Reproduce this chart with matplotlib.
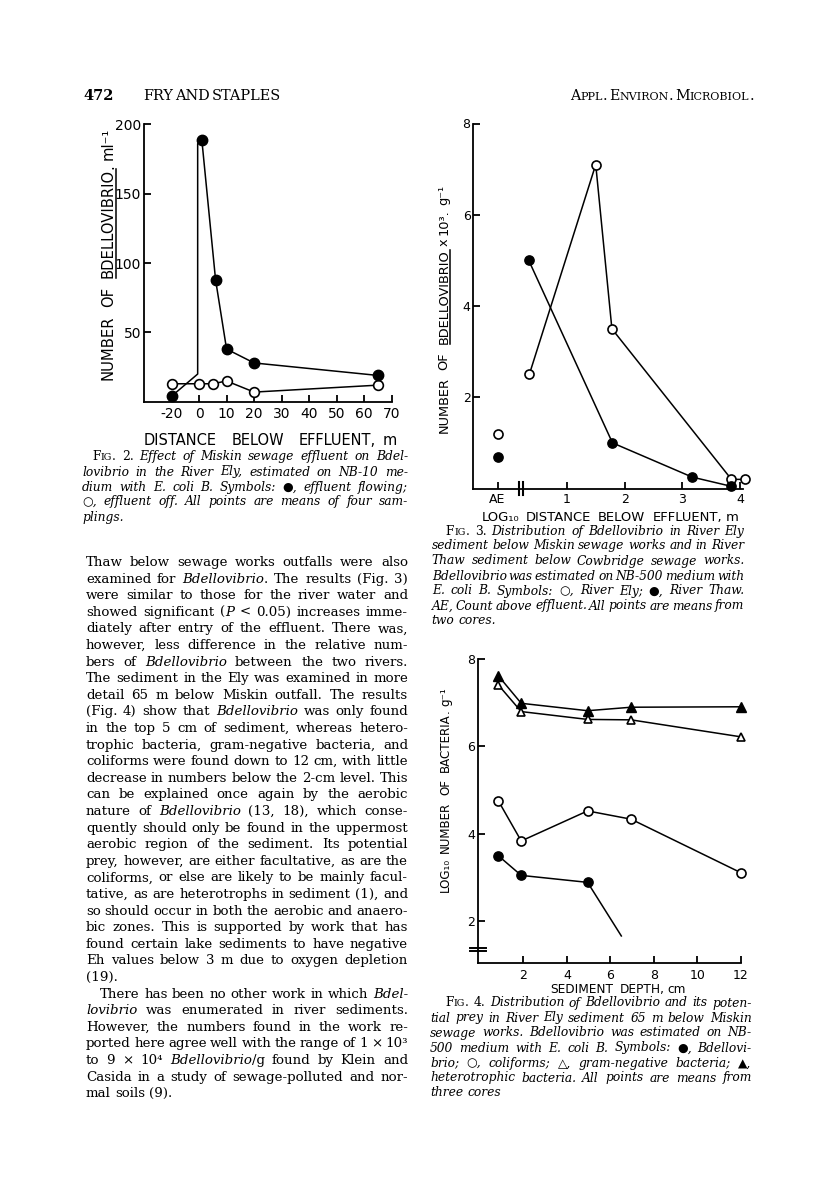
import numpy as np
import matplotlib
matplotlib.use('Agg')
import matplotlib.pyplot as plt
from matplotlib.lines import Line2D
import matplotlib.transforms as mtransforms

# ---------------------------------------------------------------- data
# Fig. 2  (River Ely water)
fig2_ticks_x = [-20, 0, 10, 20, 30, 40, 50, 60, 70]
fig2_ticks_y = [50, 100, 150, 200]
fig2_flow_dist = [-20, 1, 6, 10, 20, 65]
fig2_flow_count = [4, 189, 88, 38, 28, 19]
fig2_flow_path_dist = [-20, -1, -1, 1, 6, 10, 20, 65]
fig2_flow_path_count = [4, 20, 186, 189, 88, 38, 28, 19]
fig2_off_dist = [-20, 0, 5, 10, 20, 65]
fig2_off_count = [13, 13, 13, 15, 7, 12]

# Fig. 3  (sediment, two rivers)
fig3_tick_pos = [-0.2, 1, 2, 3, 4]
fig3_tick_lab = ['AE', '1', '2', '3', '4']
fig3_ticks_y = [2, 4, 6, 8]
fig3_ae_pos = -0.2
fig3_ely_ae = 1.2
fig3_ely_logd = [0.35, 1.5, 1.78, 3.85, 4.08]
fig3_ely = [2.5, 7.1, 3.5, 0.2, 0.2]
fig3_thaw_ae = 0.7
fig3_thaw_logd = [0.34, 1.79, 3.17, 3.84]
fig3_thaw = [5.0, 1.0, 0.25, 0.05]

# Fig. 4  (sediment depth profile)
fig4_ticks_x = [2, 4, 6, 8, 10, 12]
fig4_ticks_y = [2, 4, 6, 8]
fig4_depth = [0.85, 1.9, 4.95, 6.95, 12]
fig4_hetero = [7.62, 6.99, 6.82, 6.90, 6.91]
fig4_gramneg = [7.41, 6.80, 6.62, 6.61, 6.22]
fig4_coliform = [4.75, 3.83, 4.52, 4.33, 3.10]
fig4_bdello_depth = [0.85, 1.9, 4.95]
fig4_bdello = [3.49, 3.04, 2.88]
fig4_bdello_tail_depth = [4.95, 6.5]
fig4_bdello_tail = [2.88, 1.65]

# ---------------------------------------------------------------- texts
header_num = '472'
header_authors = 'FRY AND STAPLES'
header_journal = '#Appl. Environ. Microbiol.#'

fig2_caption = [
    "#Fig.# 2. *Effect of Miskin sewage effluent on Bdel-*",
    "*lovibrio in the River Ely, estimated on NB-10 me-*",
    "*dium with E. coli B. Symbols: ●, effluent flowing;*",
    "*○, effluent off. All points are means of four sam-*",
    "*plings.*",
]
fig3_caption = [
    "#Fig.# 3. *Distribution of Bdellovibrio in River Ely*",
    "*sediment below Miskin sewage works and in River*",
    "*Thaw sediment below Cowbridge sewage works.*",
    "*Bdellovibrio was estimated on NB-500 medium with*",
    "*E. coli B. Symbols: ○, River Ely; ●, River Thaw.*",
    "*AE, Count above effluent. All points are means from*",
    "*two cores.*",
]
fig4_caption = [
    "#Fig.# 4. *Distribution of Bdellovibrio and its poten-*",
    "*tial prey in River Ely sediment 65 m below Miskin*",
    "*sewage works. Bdellovibrio was estimated on NB-*",
    "*500 medium with E. coli B. Symbols: ●, Bdellovi-*",
    "*brio; ○, coliforms; △, gram-negative bacteria; ▲,*",
    "*heterotrophic bacteria. All points are means from*",
    "*three cores*",
]
body_lines = [
    "Thaw below sewage works outfalls were also",
    "examined for *Bdellovibrio*. The results (Fig. 3)",
    "were similar to those for the river water and",
    "showed significant (*P* < 0.05) increases imme-",
    "diately after entry of the effluent. There was,",
    "however, less difference in the relative num-",
    "bers of *Bdellovibrio* between the two rivers.",
    "The sediment in the Ely was examined in more",
    "detail 65 m below Miskin outfall. The results",
    "(Fig. 4) show that *Bdellovibrio* was only found",
    "in the top 5 cm of sediment, whereas hetero-",
    "trophic bacteria, gram-negative bacteria, and",
    "coliforms were found down to 12 cm, with little",
    "decrease in numbers below the 2-cm level. This",
    "can be explained once again by the aerobic",
    "nature of *Bdellovibrio* (13, 18), which conse-",
    "quently should only be found in the uppermost",
    "aerobic region of the sediment. Its potential",
    "prey, however, are either facultative, as are the",
    "coliforms, or else are likely to be mainly facul-",
    "tative, as are heterotrophs in sediment (1), and",
    "so should occur in both the aerobic and anaero-",
    "bic zones. This is supported by work that has",
    "found certain lake sediments to have negative",
    "Eh values below 3 m due to oxygen depletion",
    "(19).",
    "There has been no other work in which *Bdel-*",
    "*lovibrio* was enumerated in river sediments.",
    "However, the numbers found in the work re-",
    "ported here agree well with the range of 1 × 10³",
    "to 9 × 10⁴ *Bdellovibrio*/g found by Klein and",
    "Casida in a study of sewage-polluted and nor-",
    "mal soils (9).",
]

# ---------------------------------------------------------------- figure
W, H = 816, 1199
fig = plt.figure(figsize=(W / 100, H / 100), dpi=100)
fig.patch.set_facecolor('white')
R = fig.canvas.get_renderer()

SERIF = ['DejaVu Serif', 'DejaVu Sans']
SANS = ['DejaVu Sans']


def fx(x):
    return x / W


def fy(y):
    return 1 - y / H


def ext(t):
    return t.get_window_extent(R)


def measure(s, props):
    t = fig.text(0, 0, s, **props)
    w = ext(t).width
    t.remove()
    return w


def run_props(key, size):
    kind, it = key
    if kind == 'sc_small':
        return dict(family=SERIF, fontsize=size * 0.78, style='normal')
    return dict(family=SERIF, fontsize=size, style='italic' if it else 'normal')


def parse_line(line):
    words = []
    st = {'it': False, 'sc': False}
    for raw in line.split():
        runs, cur, cur_key = [], '', None
        for ch in raw:
            if ch == '*':
                st['it'] = not st['it']
                continue
            if ch == '#':
                st['sc'] = not st['sc']
                continue
            if st['sc']:
                if ch.islower():
                    key, ch2 = ('sc_small', False), ch.upper()
                else:
                    key, ch2 = ('sc_big', False), ch
            else:
                key, ch2 = ('n', st['it']), ch
            if key != cur_key and cur:
                runs.append((cur, cur_key))
                cur = ''
            cur_key = key
            cur += ch2
        if cur:
            runs.append((cur, cur_key))
        if runs:
            words.append(runs)
    return words


def word_width(word, size):
    return sum(measure(t, run_props(k, size)) for t, k in word)


def draw_block(lines, x0, x1, y0, pitch, size, ragged=(), indents=None,
               boff=4.0, weight='normal', mingap=0.45):
    indents = indents or {}
    parsed = [parse_line(l) for l in lines]
    ref = 10.0
    np_ = run_props(('n', False), ref)
    sp_ref = measure('n n', np_) - measure('nn', np_)
    best = size
    for i, words in enumerate(parsed):
        if i in ragged or len(words) < 2:
            continue
        avail = x1 - x0 - indents.get(i, 0)
        nat = sum(word_width(w, ref) for w in words) + (len(words) - 1) * sp_ref * mingap
        best = min(best, ref * avail / nat)
    size = best
    npz = run_props(('n', False), size)
    sp = measure('n n', npz) - measure('nn', npz)
    for i, words in enumerate(parsed):
        y = y0 + i * pitch + boff
        xs = x0 + indents.get(i, 0)
        objs = []
        for w in words:
            wo = []
            for t, k in w:
                o = fig.text(0, 0, t, ha='left', va='baseline', weight=weight,
                             **run_props(k, size))
                wo.append((o, ext(o).width))
            objs.append(wo)
        tot = sum(wd for wo in objs for _, wd in wo)
        if i in ragged or len(objs) < 2:
            gap = sp
        else:
            gap = (x1 - xs - tot) / (len(objs) - 1)
        x = xs
        for wo in objs:
            for o, wd in wo:
                o.set_position((fx(x), fy(y)))
                x += wd
            x += gap


def axis_label(words, start, end, base, vertical, maxsize=11.5, ul_off=2.5):
    """words: list of (runs, gap_weight_after); runs: list of (text, underline)."""
    span = abs(end - start)
    ref = 10.0
    nat = 0.0
    for runs, gw in words:
        for t, ul in runs:
            nat += measure(t, dict(family=SANS, fontsize=ref))
    sp = measure('N N', dict(family=SANS, fontsize=ref)) - measure('NN', dict(family=SANS, fontsize=ref))
    gws = sum(gw for _, gw in words[:-1])
    size = min(maxsize, ref * span / (nat + gws * sp * 0.9))
    objs = []
    for runs, gw in words:
        wl = []
        for t, ul in runs:
            o = fig.text(0, 0, t, family=SANS, fontsize=size,
                         rotation=90 if vertical else 0, rotation_mode='anchor',
                         ha='left', va='baseline')
            e = ext(o)
            wl.append((o, e.height if vertical else e.width, ul))
        objs.append((wl, gw))
    total = sum(L for wl, _ in objs for _, L, _ in wl)
    gap_unit = (span - total) / gws if gws else 0
    pos = start
    for wl, gw in objs:
        for o, L, ul in wl:
            if vertical:
                o.set_position((fx(base), fy(pos)))
                if ul:
                    fig.add_artist(Line2D([fx(base + ul_off)] * 2, [fy(pos), fy(pos - L)],
                                          transform=fig.transFigure, color='black', lw=1.1))
                pos -= L
            else:
                o.set_position((fx(pos), fy(base)))
                if ul:
                    fig.add_artist(Line2D([fx(pos), fx(pos + L)], [fy(base + ul_off)] * 2,
                                          transform=fig.transFigure, color='black', lw=1.1))
                pos += L
        pos += (-1 if vertical else 1) * gap_unit * gw


def ax_at(x0, y0, x1, y1):
    ax = fig.add_axes([x0 / W, 1 - y1 / H, (x1 - x0) / W, (y1 - y0) / H])
    ax.patch.set_alpha(0)
    for s in ('top', 'right'):
        ax.spines[s].set_visible(False)
    for s in ('left', 'bottom'):
        ax.spines[s].set_linewidth(1.3)
    ax.tick_params(direction='in', length=5, width=1.3, labelsize=9.5)
    return ax


def set_tick_font(ax):
    for lab in ax.get_xticklabels() + ax.get_yticklabels():
        lab.set_family(SANS)


LW = 1.1
MS = 7

# ---------------------------------------------------------------- Fig. 2
ax2 = ax_at(144, 124.3, 391.7, 401.8)
ax2.set_xscale('function', functions=(lambda x: np.where(np.asarray(x) < 0, np.asarray(x) / 2.0, x),
                                      lambda p: np.where(np.asarray(p) < 0, np.asarray(p) * 2.0, p)))
ax2.set_xlim(-40, 70)
ax2.set_ylim(0, 200)
ax2.set_xticks(fig2_ticks_x)
ax2.set_xticklabels([str(v) for v in fig2_ticks_x])
ax2.set_yticks(fig2_ticks_y)
ax2.set_yticklabels([str(v) for v in fig2_ticks_y])
ax2.xaxis.set_minor_locator(matplotlib.ticker.NullLocator())
ax2.tick_params(axis='x', pad=4, labelsize=10)
ax2.tick_params(axis='y', pad=2, labelsize=10)
ax2.plot(fig2_off_dist, fig2_off_count, '-o', color='black', mfc='white', mec='black',
         ms=MS, mew=1.2, lw=LW, clip_on=False, zorder=3)
ax2.plot(fig2_flow_path_dist, fig2_flow_path_count, '-', color='black', lw=LW,
         clip_on=False, zorder=3)
ax2.plot(fig2_flow_dist, fig2_flow_count, 'o', color='black', ms=MS + 0.5,
         clip_on=False, zorder=4)
set_tick_font(ax2)

axis_label([([('NUMBER', False)], 2), ([('OF', False)], 2),
            ([('BDELLOVIBRIO', True), ('.', False)], 1), ([('ml⁻¹', False)], 0)],
           start=380, end=128, base=113, vertical=True, maxsize=11.5)
axis_label([([('DISTANCE', False)], 2), ([('BELOW', False)], 2),
            ([('EFFLUENT,', False)], 1), ([('m', False)], 0)],
           start=144, end=397, base=445, vertical=False, maxsize=10.5)

# ---------------------------------------------------------------- Fig. 3
ax3 = ax_at(473.3, 123.5, 743, 488.5)
ax3.set_xlim(-0.62, 4.05)
ax3.set_ylim(0, 8)
ax3.set_xticks(fig3_tick_pos)
ax3.set_xticklabels(fig3_tick_lab)
ax3.set_yticks(fig3_ticks_y)
ax3.set_yticklabels([str(v) for v in fig3_ticks_y])
ax3.tick_params(axis='x', pad=3, labelsize=9)
ax3.tick_params(axis='y', pad=2, labelsize=9)
ax3.plot(fig3_ely_logd, fig3_ely, '-o', color='black', mfc='white', mec='black',
         ms=MS - 0.5, mew=1.2, lw=LW, clip_on=False, zorder=3)
ax3.plot(fig3_thaw_logd, fig3_thaw, '-o', color='black', ms=MS - 0.3, lw=LW,
         clip_on=False, zorder=4)
ax3.plot([fig3_ae_pos], [fig3_ely_ae], 'o', color='black', mfc='white', mec='black',
         ms=MS - 0.5, mew=1.2, clip_on=False, zorder=3)
ax3.plot([fig3_ae_pos], [fig3_thaw_ae], 'o', color='black', ms=MS - 0.3,
         clip_on=False, zorder=4)
tr3 = mtransforms.blended_transform_factory(ax3.transData, ax3.transAxes)
for xb in (0.17, 0.235):
    ax3.plot([xb, xb], [-0.018, 0.018], transform=tr3, color='black', lw=1.5,
             clip_on=False)
set_tick_font(ax3)

axis_label([([('NUMBER', False)], 2), ([('OF', False)], 2),
            ([('BDELLOVIBRIO', True)], 1), ([('x', False)], 1),
            ([('10³.', False)], 1), ([('g⁻¹', False)], 0)],
           start=433, end=185, base=447.5, vertical=True, maxsize=10.5)
axis_label([([('LOG₁₀', False)], 1.5), ([('DISTANCE', False)], 2), ([('BELOW', False)], 2),
            ([('EFFLUENT,', False)], 1), ([('m', False)], 0)],
           start=482, end=739, base=521, vertical=False, maxsize=10)

# ---------------------------------------------------------------- Fig. 4
ax4 = ax_at(477.7, 659.3, 741, 962.7)
ax4.set_xlim(-0.1, 12)
ax4.set_ylim(1.036, 8)
ax4.set_xticks(fig4_ticks_x)
ax4.set_xticklabels([str(v) for v in fig4_ticks_x])
ax4.set_yticks(fig4_ticks_y)
ax4.set_yticklabels([str(v) for v in fig4_ticks_y])
ax4.tick_params(axis='x', pad=4.5, labelsize=9)
ax4.tick_params(axis='y', pad=2, labelsize=9)
ax4.plot(fig4_depth, fig4_gramneg, '-^', color='black', mfc='white', mec='black',
         ms=MS - 0.8, mew=1.2, lw=LW, clip_on=False, zorder=3)
ax4.plot(fig4_depth, fig4_hetero, '-^', color='black', ms=MS - 0.5, lw=LW,
         clip_on=False, zorder=4)
ax4.plot(fig4_depth, fig4_coliform, '-o', color='black', mfc='white', mec='black',
         ms=MS - 0.5, mew=1.2, lw=LW, clip_on=False, zorder=3)
ax4.plot(fig4_bdello_depth, fig4_bdello, '-o', color='black', ms=MS - 0.3, lw=LW,
         clip_on=False, zorder=4)
ax4.plot(fig4_bdello_tail_depth, fig4_bdello_tail, '-', color='black', lw=LW,
         clip_on=False, zorder=3)
tr4 = mtransforms.blended_transform_factory(ax4.transAxes, ax4.transData)
for yb in (1.30, 1.38):
    ax4.plot([-0.03, 0.032], [yb, yb], transform=tr4, color='black', lw=1.4,
             clip_on=False)
set_tick_font(ax4)

axis_label([([('LOG₁₀', False)], 1.5), ([('NUMBER', False)], 2), ([('OF', False)], 2),
            ([('BACTERIA', False), ('.', False)], 1), ([('g⁻¹', False)], 0)],
           start=892, end=687, base=449, vertical=True, maxsize=10)
axis_label([([('SEDIMENT', False)], 2), ([('DEPTH,', False)], 1), ([('cm', False)], 0)],
           start=550, end=686, base=993, vertical=False, maxsize=10)

# ---------------------------------------------------------------- page text
draw_block([header_num], 83, 110, 95, 0, 10.5, ragged=(0,), boff=4.5, weight='bold')
draw_block([header_authors], 143, 281, 95, 0, 10.5, boff=4.5)
draw_block([header_journal], 570, 754, 95, 0, 10.5, boff=4.5)

draw_block(fig2_caption, 82, 408, 457, 15.0, 8.8, ragged=(4,), indents={0: 10}, boff=3.5)
draw_block(fig3_caption, 431.7, 744.3, 531, 15.0, 8.8, ragged=(6,), indents={0: 14}, boff=3.5)
draw_block(fig4_caption, 430, 751.7, 1003, 15.0, 8.8, ragged=(6,), indents={0: 15}, boff=3.5)
draw_block(body_lines, 86, 408, 562, 16.6, 9.6, ragged=(25, 32), indents={26: 14}, boff=4.0)

fig.savefig('out.png', dpi=100, facecolor='white')
